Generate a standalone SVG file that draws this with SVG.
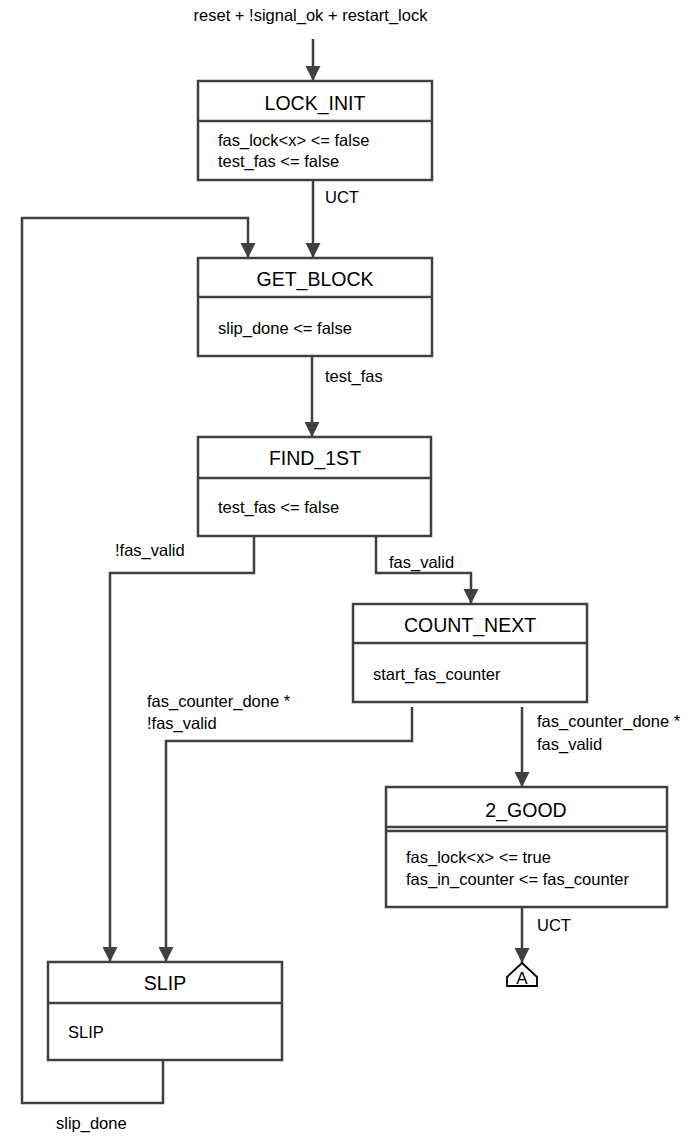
<svg xmlns="http://www.w3.org/2000/svg" width="692" height="1139" viewBox="0 0 692 1139">
<style>
.box{fill:#fff;stroke:#404040;stroke-width:2.5}
.div{stroke:#404040;stroke-width:2.5;fill:none}
.ttl{font-family:"Liberation Sans",Arial,sans-serif;font-size:19.5px;fill:#000;text-anchor:middle}
.txt{font-family:"Liberation Sans",Arial,sans-serif;font-size:16.5px;fill:#000}
.con{fill:none;stroke:#404040;stroke-width:2.5;stroke-linejoin:miter}
</style>
<defs>
<marker id="arr" markerWidth="15" markerHeight="16" refX="15" refY="7.5" orient="auto" markerUnits="userSpaceOnUse" viewBox="0 0 15 15">
<path d="M0,0 L15,7.5 L0,15 Z" fill="#404040"/>
</marker>
</defs>
<rect width="692" height="1139" fill="#fff"/>
<g id="connectors">
<path class="con" d="M313,39 V81" marker-end="url(#arr)"/>
<path class="con" d="M313,180 V258" marker-end="url(#arr)"/>
<path class="con" d="M163,1060 V1103 H22 V218 H248 V258" marker-end="url(#arr)"/>
<path class="con" d="M312,356 V437" marker-end="url(#arr)"/>
<path class="con" d="M254,536 V573 H110 V962" marker-end="url(#arr)"/>
<path class="con" d="M376,533 V573 H471 V604" marker-end="url(#arr)"/>
<path class="con" d="M412,707 V741 H166 V962" marker-end="url(#arr)"/>
<path class="con" d="M522,707 V787" marker-end="url(#arr)"/>
<path class="con" d="M522,907 V963" marker-end="url(#arr)"/>
<text class="txt" x="310.5" y="21" text-anchor="middle">reset + !signal_ok + restart_lock</text>
<text class="txt" x="325" y="203">UCT</text>
<text class="txt" x="325" y="382">test_fas</text>
<text class="txt" x="115" y="556">!fas_valid</text>
<text class="txt" x="389" y="568">fas_valid</text>
<text class="txt" x="147" y="707">fas_counter_done *</text>
<text class="txt" x="147" y="729">!fas_valid</text>
<text class="txt" x="537" y="727">fas_counter_done *</text>
<text class="txt" x="537" y="750">fas_valid</text>
<text class="txt" x="537" y="931">UCT</text>
<text class="txt" x="56" y="1129">slip_done</text>
</g>
<g id="LOCK_INIT">
<rect class="box" x="198" y="81" width="234" height="99"/>
<line class="div" x1="198" y1="121" x2="432" y2="121"/>
<text class="ttl" x="315" y="110">LOCK_INIT</text>
<text class="txt" x="218" y="146">fas_lock&lt;x&gt; &lt;= false</text>
<text class="txt" x="218" y="167">test_fas &lt;= false</text>
</g>
<g id="GET_BLOCK">
<rect class="box" x="198" y="258" width="234" height="98"/>
<line class="div" x1="198" y1="297" x2="432" y2="297"/>
<text class="ttl" x="315" y="286">GET_BLOCK</text>
<text class="txt" x="218" y="334">slip_done &lt;= false</text>
</g>
<g id="FIND_1ST">
<rect class="box" x="198" y="437" width="233" height="99"/>
<line class="div" x1="198" y1="478" x2="431" y2="478"/>
<text class="ttl" x="315" y="465">FIND_1ST</text>
<text class="txt" x="218" y="513">test_fas &lt;= false</text>
</g>
<g id="COUNT_NEXT">
<rect class="box" x="353" y="604" width="234" height="98"/>
<line class="div" x1="353" y1="643" x2="587" y2="643"/>
<text class="ttl" x="470" y="632">COUNT_NEXT</text>
<text class="txt" x="373" y="680">start_fas_counter</text>
</g>
<g id="2_GOOD">
<rect class="box" x="386" y="787" width="281" height="120"/>
<line class="div" x1="386" y1="827" x2="667" y2="827" stroke-width="1.6"/>
<line class="div" x1="386" y1="831" x2="667" y2="831" stroke-width="1.6"/>
<text class="ttl" x="526" y="817">2_GOOD</text>
<text class="txt" x="406" y="863">fas_lock&lt;x&gt; &lt;= true</text>
<text class="txt" x="406" y="885">fas_in_counter &lt;= fas_counter</text>
</g>
<g id="A">
<path d="M522,963 L537,977 L537,986 L507,986 L507,977 Z" fill="#fff" stroke="#000" stroke-width="1.8"/>
<text x="522" y="983.5" text-anchor="middle" style="font-family:'Liberation Sans',Arial,sans-serif;font-size:17px">A</text>
</g>
<g id="SLIP">
<rect class="box" x="48" y="962" width="234" height="98"/>
<line class="div" x1="48" y1="1003" x2="282" y2="1003"/>
<text class="ttl" x="165" y="990">SLIP</text>
<text class="txt" x="68" y="1038">SLIP</text>
</g>
</svg>
